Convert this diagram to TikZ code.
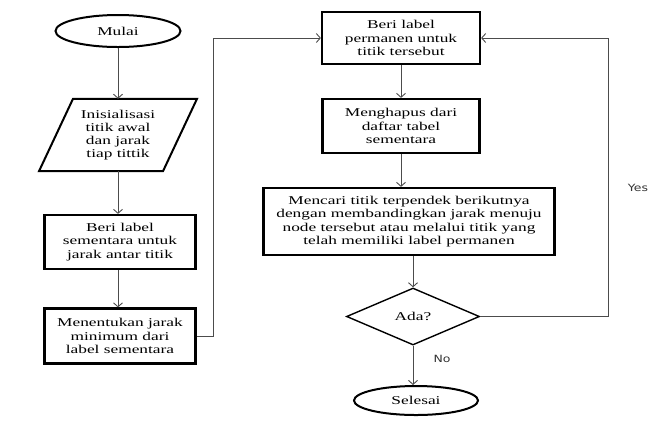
\documentclass[tikz,border=0pt]{standalone}
\usepackage{fontspec}
\setmainfont{Liberation Serif}[FakeStretch=1.45]
\newfontfamily\labfont{DejaVu Sans}[FakeStretch=1.25]
\usetikzlibrary{shapes.geometric,arrows.meta}
\begin{document}
\begin{tikzpicture}[x=1bp,y=-1bp,
  every node/.style={font=\fontsize{12}{13.3}\selectfont, align=center, inner sep=0pt},
  term/.style={ellipse, draw, line width=2bp},
  procbox/.style={rectangle, draw, line width=2.2bp},
  decision/.style={diamond, draw, line width=1.4bp},
  lab/.style={font=\labfont\fontsize{10}{12}\selectfont, text=black!80},
  arr/.style={draw=black!70, line width=0.9bp, -{Straight Barb[length=4bp,width=9bp]}},
  pshape/.style={draw, line width=2bp}
]
\useasboundingbox (0,0) rectangle (660,425);
% left column
\node[term, minimum width=125bp, minimum height=32bp] (start) at (118,31) {Mulai};
\node[minimum width=124bp, minimum height=72bp] (init) at (118,135) {Inisialisasi\\titik awal\\dan jarak\\tiap tittik};
\draw[pshape] ([xshift=-45bp]init.north) -- ([xshift=79bp]init.north) -- ([xshift=45bp]init.south) -- ([xshift=-79bp]init.south) -- cycle;
\node[procbox, minimum width=151bp, minimum height=54bp] (b1) at (120,242) {Beri label\\sementara untuk\\jarak antar titik};
\node[procbox, minimum width=151bp, minimum height=55bp] (b2) at (120,336) {Menentukan jarak\\minimum dari\\label sementara};
% right column
\node[procbox, minimum width=158bp, minimum height=52bp] (b3) at (401,38) {Beri label\\permanen untuk\\titik tersebut};
\node[procbox, minimum width=157bp, minimum height=54bp] (b4) at (401,126) {Menghapus dari\\daftar tabel\\sementara};
\node[procbox, minimum width=291bp, minimum height=67bp] (b5) at (409,221.5) {Mencari titik terpendek berikutnya\\dengan membandingkan jarak menuju\\node tersebut atau melalui titik yang\\telah memiliki label permanen};
\node[decision, minimum width=133bp, minimum height=57bp] (dia) at (413,316.5) {Ada?};
\node[term, minimum width=124bp, minimum height=29bp] (stop) at (416,400.5) {Selesai};
\node[lab] (yes) at (638,188) {Yes};
\node[lab] (no) at (442,359) {No};
% connectors
\draw[arr] (start.south -| init.north) -- (init.north);
\draw[arr] (init.south) -- (init.south |- b1.north);
\draw[arr] (b1.south -| init.south) -- (b2.north -| init.south);
\draw[arr] (b2.east) -- ++(17,0) |- (b3.west);
\draw[arr] (b3.south) -- (b4.north);
\draw[arr] (b4.south) -- (b4.south |- b5.north);
\draw[arr] (dia.north |- b5.south) -- (dia.north);
\draw[arr] (dia.south) -- (dia.south |- stop.north);
\draw[arr] (dia.east) -- ++(128.5,0) |- (b3.east);
\end{tikzpicture}
\end{document}
